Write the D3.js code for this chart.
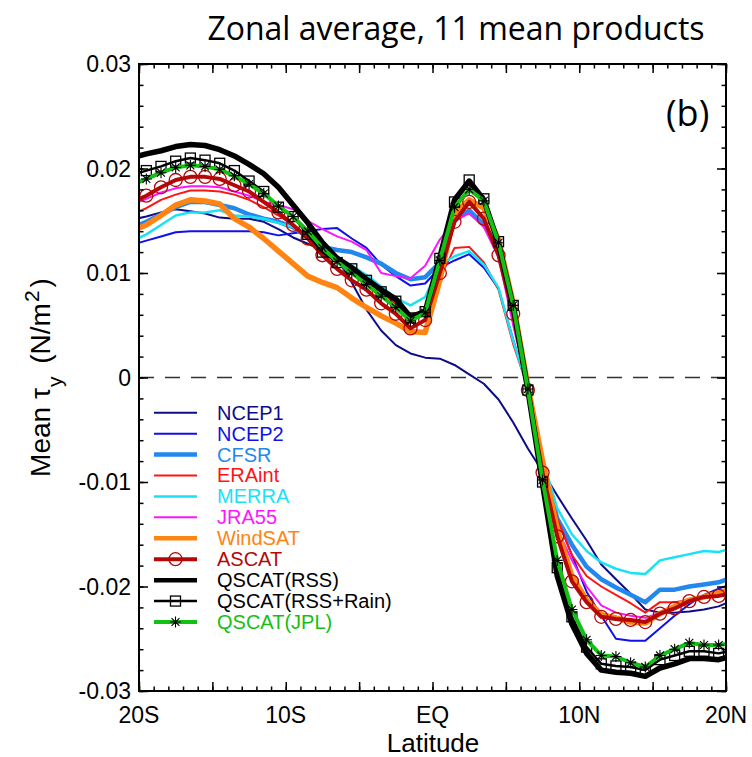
<!DOCTYPE html>
<meta charset="utf-8">
<style>
  body { margin: 0; background: #fff; }
  #chart svg text { font-family: "Liberation Sans", Arial, sans-serif; }
</style>
<body>
<div id="chart"></div>
<script src="https://d3js.org/d3.v7.min.js"></script>
<script>
// latitude of each zonal-mean value (deg, negative = south)
const lats = d3.range(-20.5, 21, 1);

// mean meridional wind stress tau_y (N/m^2), one value per latitude above
const ncep1 = [0.0151, 0.0154, 0.0158, 0.0161, 0.0159, 0.0157, 0.0153, 0.0152, 0.0152, 0.0149, 0.0142, 0.0134, 0.0128, 0.0122, 0.0114, 0.0091, 0.0065, 0.0045, 0.0031, 0.0023, 0.0019,
  0.0018, 0.0012, 0.0003, -0.0006, -0.0021, -0.0043, -0.0068, -0.0090, -0.0113, -0.0135, -0.0156, -0.0179, -0.0193, -0.0207, -0.0222, -0.0225, -0.0225, -0.0224, -0.0222, -0.0219, -0.0213];
const ncep2 = [0.0127, 0.0131, 0.0135, 0.0139, 0.0140, 0.0140, 0.0140, 0.0140, 0.0140, 0.0139, 0.0136, 0.0138, 0.0140, 0.0142, 0.0143, 0.0133, 0.0124, 0.0108, 0.0097, 0.0088, 0.0090,
  0.0105, 0.0112, 0.0118, 0.0105, 0.0085, 0.0036, -0.0010, -0.0088, -0.0135, -0.0170, -0.0205, -0.0228, -0.0250, -0.0252, -0.0252, -0.0240, -0.0228, -0.0217, -0.0208, -0.0202, -0.0197];
const cfsr = [0.0143, 0.0149, 0.0156, 0.0163, 0.0168, 0.0168, 0.0165, 0.0162, 0.0156, 0.0152, 0.0149, 0.0144, 0.0134, 0.0125, 0.0122, 0.0120, 0.0115, 0.0109, 0.0100, 0.0094, 0.0096,
  0.0110, 0.0150, 0.0160, 0.0146, 0.0125, 0.0066, -0.0010, -0.0082, -0.0135, -0.0160, -0.0181, -0.0193, -0.0201, -0.0208, -0.0215, -0.0203, -0.0203, -0.0200, -0.0198, -0.0196, -0.0191];
const eraint = [0.0156, 0.0162, 0.0170, 0.0175, 0.0179, 0.0179, 0.0178, 0.0175, 0.0170, 0.0163, 0.0155, 0.0146, 0.0136, 0.0126, 0.0116, 0.0105, 0.0093, 0.0082, 0.0070, 0.0056, 0.0062,
  0.0095, 0.0124, 0.0125, 0.0110, 0.0084, 0.0032, -0.0010, -0.0080, -0.0135, -0.0170, -0.0190, -0.0200, -0.0208, -0.0216, -0.0225, -0.0215, -0.0215, -0.0213, -0.0210, -0.0206, -0.0200];
const merra = [0.0130, 0.0137, 0.0146, 0.0155, 0.0158, 0.0158, 0.0160, 0.0155, 0.0154, 0.0152, 0.0148, 0.0144, 0.0133, 0.0124, 0.0116, 0.0107, 0.0098, 0.0087, 0.0076, 0.0069, 0.0077,
  0.0108, 0.0116, 0.0121, 0.0108, 0.0086, 0.0035, -0.0010, -0.0078, -0.0125, -0.0150, -0.0166, -0.0177, -0.0183, -0.0187, -0.0188, -0.0175, -0.0172, -0.0169, -0.0166, -0.0167, -0.0163];
const jra55 = [0.0165, 0.0171, 0.0177, 0.0181, 0.0183, 0.0183, 0.0182, 0.0178, 0.0174, 0.0168, 0.0165, 0.0161, 0.0150, 0.0142, 0.0135, 0.0130, 0.0122, 0.0100, 0.0097, 0.0095, 0.0107,
  0.0132, 0.0150, 0.0157, 0.0144, 0.0115, 0.0050, -0.0010, -0.0088, -0.0145, -0.0175, -0.0200, -0.0218, -0.0225, -0.0228, -0.0230, -0.0225, -0.0220, -0.0215, -0.0210, -0.0206, -0.0203];
const windsat = [0.0140, 0.0146, 0.0155, 0.0165, 0.0170, 0.0169, 0.0166, 0.0152, 0.0144, 0.0133, 0.0121, 0.0109, 0.0097, 0.0091, 0.0086, 0.0076, 0.0067, 0.0059, 0.0052, 0.0044, 0.0043,
  0.0093, 0.0157, 0.0170, 0.0162, 0.0132, 0.0071, -0.0008, -0.0080, -0.0145, -0.0190, -0.0213, -0.0227, -0.0230, -0.0234, -0.0235, -0.0226, -0.0219, -0.0213, -0.0210, -0.0206, -0.0202];
const ascat = [0.0167, 0.0174, 0.0182, 0.0189, 0.0192, 0.0192, 0.0190, 0.0184, 0.0178, 0.0168, 0.0158, 0.0146, 0.0133, 0.0117, 0.0104, 0.0093, 0.0084, 0.0071, 0.0061, 0.0047, 0.0055,
  0.0100, 0.0149, 0.0168, 0.0152, 0.0117, 0.0061, -0.0012, -0.0091, -0.0152, -0.0195, -0.0215, -0.0229, -0.0231, -0.0232, -0.0234, -0.0226, -0.0221, -0.0214, -0.0210, -0.0209, -0.0206];
const qscatRss = [0.0210, 0.0214, 0.0217, 0.0221, 0.0223, 0.0222, 0.0218, 0.0212, 0.0204, 0.0195, 0.0182, 0.0165, 0.0148, 0.0129, 0.0114, 0.0105, 0.0094, 0.0084, 0.0075, 0.0058, 0.0063,
  0.0115, 0.0170, 0.0188, 0.0170, 0.0128, 0.0068, -0.0012, -0.0102, -0.0190, -0.0236, -0.0264, -0.0280, -0.0282, -0.0283, -0.0286, -0.0278, -0.0274, -0.0269, -0.0269, -0.0270, -0.0266];
const qscatRain = [0.0194, 0.0198, 0.0202, 0.0207, 0.0210, 0.0208, 0.0205, 0.0198, 0.0188, 0.0178, 0.0163, 0.0154, 0.0137, 0.0120, 0.0110, 0.0104, 0.0093, 0.0082, 0.0073, 0.0057, 0.0063,
  0.0114, 0.0168, 0.0189, 0.0171, 0.0130, 0.0069, -0.0012, -0.0100, -0.0182, -0.0229, -0.0258, -0.0274, -0.0276, -0.0277, -0.0280, -0.0270, -0.0266, -0.0262, -0.0262, -0.0264, -0.0261];
const qscatJpl = [0.0184, 0.0190, 0.0196, 0.0201, 0.0203, 0.0202, 0.0199, 0.0193, 0.0185, 0.0176, 0.0164, 0.0154, 0.0140, 0.0124, 0.0111, 0.0100, 0.0089, 0.0078, 0.0067, 0.0054, 0.0062,
  0.0112, 0.0163, 0.0180, 0.0169, 0.0129, 0.0069, -0.0011, -0.0098, -0.0175, -0.0222, -0.0251, -0.0266, -0.0267, -0.0273, -0.0277, -0.0266, -0.0260, -0.0254, -0.0256, -0.0256, -0.0254];

const xTickValues = [-20, -10, 0, 10, 20];
const xTickLabels = ["20S", "10S", "EQ", "10N", "20N"];
const yTickValues = [-0.03, -0.02, -0.01, 0, 0.01, 0.02, 0.03];
const yTickLabels = ["-0.03", "-0.02", "-0.01", "0", "0.01", "0.02", "0.03"];

// drawing style of each product, in drawing/legend order
const series = [
  { name: "NCEP1", values: ncep1, color: "#0c0c88", width: 2 },
  { name: "NCEP2", values: ncep2, color: "#1010e8", width: 2 },
  { name: "CFSR", values: cfsr, color: "#2288ee", width: 4.5 },
  { name: "ERAint", values: eraint, color: "#ff1414", width: 2 },
  { name: "MERRA", values: merra, color: "#1ae2f4", width: 2.5 },
  { name: "JRA55", values: jra55, color: "#ff14ff", width: 2 },
  { name: "WindSAT", values: windsat, color: "#ff8412", width: 5.5 },
  { name: "ASCAT", values: ascat, color: "#b40808", width: 4, marker: "circle" },
  { name: "QSCAT(RSS)", values: qscatRss, color: "#000", width: 5.5 },
  { name: "QSCAT(RSS+Rain)", values: qscatRain, color: "#000", width: 2.5, marker: "square" },
  { name: "QSCAT(JPL)", values: qscatJpl, color: "#14c014", width: 4, marker: "asterisk" }
];

const W = 752, H = 757;
const x = d3.scaleLinear().domain([-20, 20]).range([139, 726]);
const y = d3.scaleLinear().domain([-0.03, 0.03]).range([691, 64]);

const svg = d3.select("#chart").append("svg")
  .attr("width", W).attr("height", H);

svg.append("clipPath").attr("id", "plot")
  .append("rect")
  .attr("x", x(-20)).attr("y", y(0.03))
  .attr("width", x(20) - x(-20)).attr("height", y(-0.03) - y(0.03));

// zero line
svg.append("line")
  .attr("x1", x(-20)).attr("x2", x(20))
  .attr("y1", y(0)).attr("y2", y(0))
  .attr("stroke", "#333").attr("stroke-width", 1.5)
  .attr("stroke-dasharray", "15,11");

const line = d3.line().x((d, i) => x(lats[i])).y(d => y(d));

function drawMarker(g, kind, cx, cy, color) {
  if (kind === "circle") {
    g.append("circle").attr("cx", cx).attr("cy", cy).attr("r", 6.5)
      .attr("fill", "none").attr("stroke", color).attr("stroke-width", 1.3);
  } else if (kind === "square") {
    g.append("rect").attr("x", cx - 5).attr("y", cy - 5).attr("width", 10).attr("height", 10)
      .attr("fill", "none").attr("stroke", "#000").attr("stroke-width", 1.3);
  } else if (kind === "asterisk") {
    const r = 5.5, q = r * 0.72;
    g.append("path")
      .attr("d", `M${cx - r},${cy}H${cx + r}M${cx},${cy - r}V${cy + r}M${cx - q},${cy - q}L${cx + q},${cy + q}M${cx - q},${cy + q}L${cx + q},${cy - q}`)
      .attr("stroke", "#000").attr("stroke-width", 1.1).attr("fill", "none");
  }
}

const curves = svg.append("g").attr("clip-path", "url(#plot)");
series.forEach(s => {
  const g = curves.append("g");
  g.append("path")
    .attr("d", line(s.values))
    .attr("fill", "none")
    .attr("stroke", s.color)
    .attr("stroke-width", s.width)
    .attr("stroke-linejoin", "round");
  if (s.marker) {
    s.values.forEach((v, i) => drawMarker(g, s.marker, x(lats[i]), y(v), s.color));
  }
});

// frame and inward ticks on all four sides
function ticks(axis, scale, values, len, tx, ty) {
  svg.append("g")
    .attr("transform", `translate(${tx},${ty})`)
    .call(axis(scale).tickValues(values).tickSize(-len).tickFormat(""))
    .call(g => g.select(".domain").remove())
    .call(g => g.selectAll("line").attr("stroke", "#000").attr("stroke-width", 1.5));
}
const xMinor = d3.range(-20, 21, 1), xMajor = d3.range(-20, 21, 5);
const yMinor = d3.range(-30, 31, 2).map(v => v / 1000), yMajor = yTickValues;
ticks(d3.axisBottom, x, xMinor, 4.5, 0, y(-0.03));
ticks(d3.axisBottom, x, xMajor, 9, 0, y(-0.03));
ticks(d3.axisTop, x, xMinor, 4.5, 0, y(0.03));
ticks(d3.axisTop, x, xMajor, 9, 0, y(0.03));
ticks(d3.axisLeft, y, yMinor, 4.5, x(-20), 0);
ticks(d3.axisLeft, y, yMajor, 9, x(-20), 0);
ticks(d3.axisRight, y, yMinor, 4.5, x(20), 0);
ticks(d3.axisRight, y, yMajor, 9, x(20), 0);

svg.append("rect")
  .attr("x", x(-20)).attr("y", y(0.03))
  .attr("width", x(20) - x(-20)).attr("height", y(-0.03) - y(0.03))
  .attr("fill", "none").attr("stroke", "#000").attr("stroke-width", 2);

// tick labels
svg.append("g").selectAll("text")
  .data(xTickValues)
  .join("text")
  .attr("x", d => x(d)).attr("y", 723)
  .attr("text-anchor", "middle")
  .attr("font-size", 23)
  .text((d, i) => xTickLabels[i]);

svg.append("g").selectAll("text")
  .data(yTickValues)
  .join("text")
  .attr("x", 131).attr("y", d => y(d) + 8)
  .attr("text-anchor", "end")
  .attr("font-size", 23)
  .text((d, i) => yTickLabels[i]);

// axis titles
svg.append("text")
  .attr("x", 433).attr("y", 752)
  .attr("text-anchor", "middle").attr("font-size", 26)
  .text("Latitude");

const yl = svg.append("text")
  .attr("transform", `translate(50,${y(0)}) rotate(-90)`)
  .attr("text-anchor", "middle").attr("font-size", 28);
yl.append("tspan").text("Mean \u03c4");
yl.append("tspan").attr("font-size", 21).attr("dx", 1).attr("baseline-shift", "sub").text("y");
yl.append("tspan").attr("dx", 5).text(" (N/m");
yl.append("tspan").attr("font-size", 21).attr("dx", 1).attr("baseline-shift", "super").text("2");
yl.append("tspan").attr("dx", 3).text(")");

// title and panel letter
svg.append("text")
  .attr("x", 456).attr("y", 40)
  .attr("text-anchor", "middle")
  .style("font-family", "'Open Sans', 'Noto Sans', sans-serif")
  .attr("font-size", 32)
  .text("Zonal average, 11 mean products");

svg.append("text")
  .attr("x", 666).attr("y", 126)
  .style("font-family", "'Open Sans', 'Noto Sans', sans-serif")
  .attr("font-size", 36)
  .text("(b)");

// legend
const legend = svg.append("g");
series.forEach((s, i) => {
  const ly = 412.7 + i * 20.93;
  legend.append("line")
    .attr("x1", 154).attr("x2", 197).attr("y1", ly).attr("y2", ly)
    .attr("stroke", s.color).attr("stroke-width", Math.min(s.width, 4.5));
  if (s.marker) drawMarker(legend, s.marker, 175.5, ly, s.color);
  legend.append("text")
    .attr("x", 217).attr("y", ly + 7)
    .attr("font-size", 20)
    .attr("fill", s.color)
    .text(s.name);
});
</script>
</body>
